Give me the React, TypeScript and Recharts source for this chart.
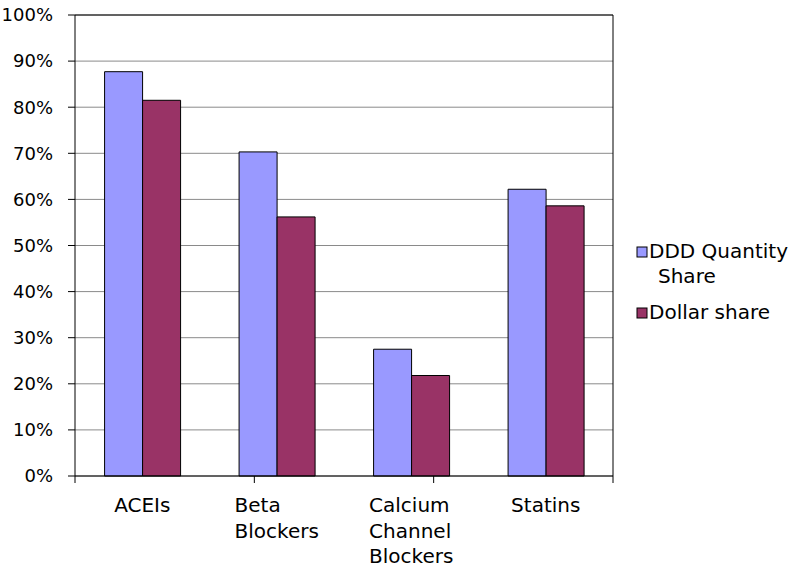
import { BarChart, Bar, XAxis, YAxis, CartesianGrid, Legend, ReferenceLine } from "recharts";

const categories = ["ACEIs", "Beta Blockers", "Calcium Channel Blockers", "Statins"];
const categoryLines = [["ACEIs"], ["Beta", "Blockers"], ["Calcium", "Channel", "Blockers"], ["Statins"]];
const dddShare = [0.877, 0.703, 0.275, 0.622];
const dollarShare = [0.815, 0.562, 0.218, 0.586];
const yTicks = [0, 0.1, 0.2, 0.3, 0.4, 0.5, 0.6, 0.7, 0.8, 0.9, 1];
const edgeTicks = [0, 1, 2, 3, 4];

const data = categories.map((name, i) => ({ name, ddd: dddShare[i], dollar: dollarShare[i] }));

const FONT = "'DejaVu Sans', 'Liberation Sans', Arial, sans-serif";

let ctx: CanvasRenderingContext2D | null = null;
function measure(text: string, size: number) {
  if (!ctx) ctx = document.createElement("canvas").getContext("2d");
  if (!ctx) return text.length * size * 0.6;
  ctx.font = `${size}px ${FONT}`;
  return ctx.measureText(text).width;
}

function CategoryTick({ x, y, payload }: any) {
  const idx = categories.indexOf(payload.value);
  const lines = categoryLines[idx] || [payload.value];
  const w = Math.max(...lines.map((l) => measure(l, 20)));
  const left = x - w / 2;
  return (
    <text x={left} y={y} fontSize={20} fontFamily={FONT} fill="#000" textAnchor="start">
      {lines.map((l, i) => (
        <tspan key={i} x={left} dy={i === 0 ? 36 - 7 : 25.5}>
          {l}
        </tspan>
      ))}
    </text>
  );
}

function LegendBox({ payload }: any) {
  const items = payload || [];
  return (
    <svg width={159} height={100} style={{ display: "block" }}>
      {items.map((p: any, i: number) => {
        const top = i === 0 ? 12 : 73;
        const lines = i === 0 ? ["DDD Quantity", "Share"] : ["Dollar share"];
        return (
          <g key={i}>
            <rect x={7} y={top} width={10} height={10} fill={p.color} stroke="#000" strokeWidth={1} />
            {lines.map((l, j) => (
              <text key={j} x={j === 0 ? 19 : 28} y={top + 11 + j * 25} fontSize={20} fontFamily={FONT} fill="#000">
                {l}
              </text>
            ))}
          </g>
        );
      })}
    </svg>
  );
}

export default function App() {
  return (
    <div style={{ position: "absolute", left: 0, top: 0, width: 789, height: 569, background: "#fff" }}>
      <BarChart
        width={789}
        height={569}
        data={data}
        margin={{ top: 15, right: 16, bottom: 0, left: 0 }}
        barCategoryGap="22%"
        barGap={0}
      >
        <CartesianGrid vertical={false} stroke="#8a8a8a" xAxisId="b" />
        <XAxis
          xAxisId="a"
          type="number"
          domain={[0, 4]}
          ticks={edgeTicks}
          tickFormatter={() => ""}
          tick={{ fontSize: 1 }}
          tickSize={7}
          axisLine={{ stroke: "#000" }}
          tickLine={{ stroke: "#000" }}
          height={7}
          interval={0}
          allowDataOverflow
        />
        <XAxis
          xAxisId="b"
          dataKey="name"
          axisLine={false}
          tickLine={false}
          tickSize={0}
          tickMargin={0}
          height={86}
          interval={0}
          tick={<CategoryTick />}
        />
        <YAxis
          domain={[0, 1]}
          ticks={yTicks}
          tickFormatter={(v: number) => `${Math.round(v * 100)}%`}
          tickSize={7}
          tickMargin={15}
          width={75}
          axisLine={{ stroke: "#000" }}
          tickLine={{ stroke: "#000" }}
          tick={{ fontSize: 18, fontFamily: FONT, fill: "#000" }}
          interval={0}
        />
        <YAxis
          yAxisId="r"
          orientation="right"
          domain={[0, 1]}
          tick={false}
          tickLine={false}
          axisLine={{ stroke: "#000" }}
          width={1}
        />
        <ReferenceLine y={1} stroke="#000" xAxisId="b" />
        <Legend
          layout="vertical"
          verticalAlign="top"
          align="right"
          wrapperStyle={{ position: "absolute", left: 630, top: 235, width: 159 }}
          content={<LegendBox />}
        />
        <Bar dataKey="ddd" name="DDD Quantity Share" xAxisId="b" fill="#9999ff" stroke="#000" strokeWidth={1} isAnimationActive={false} />
        <Bar dataKey="dollar" name="Dollar share" xAxisId="b" fill="#993366" stroke="#000" strokeWidth={1} isAnimationActive={false} />
      </BarChart>
    </div>
  );
}
